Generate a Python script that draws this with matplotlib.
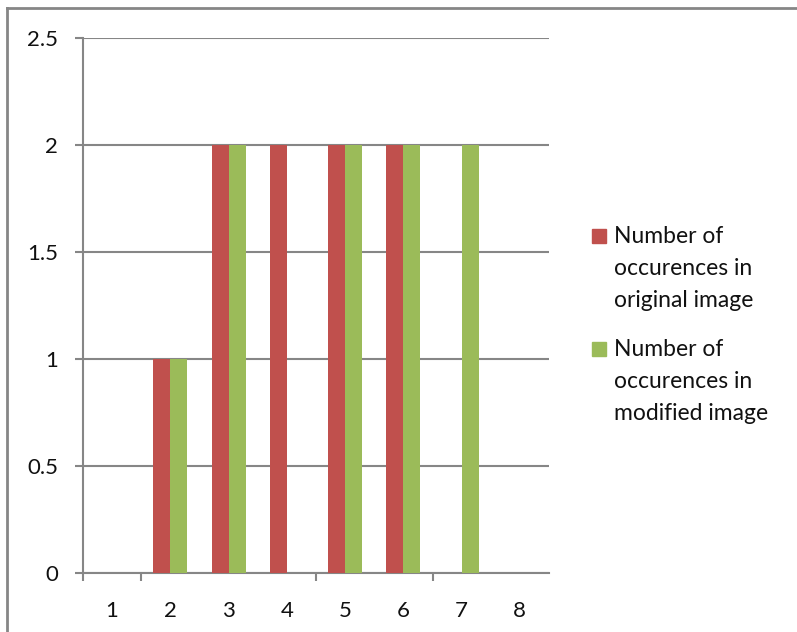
import matplotlib.pyplot as plt
from matplotlib.lines import Line2D
from matplotlib.patches import Rectangle

plt.rcParams['font.family'] = ['Lato', 'DejaVu Sans']

# occurrences per value, original vs modified image
categories = [1, 2, 3, 4, 5, 6, 7, 8]
original = [0, 1, 2, 2, 2, 2, 0, 0]
modified = [0, 1, 2, 0, 2, 2, 2, 0]
series_labels = ['Number of\noccurences in\noriginal image',
                 'Number of\noccurences in\nmodified image']
colors = ['#C0504D', '#9BBB59']
y_ticks = [0, 0.5, 1, 1.5, 2, 2.5]

W, H = 797, 632
grey = '#868686'

fig = plt.figure(figsize=(W / 100, H / 100), dpi=100)
ax = fig.add_axes([83 / W, 1 - 573 / H, (549 - 83) / W, (573 - 38) / H])

bar_w = 0.29
ax.bar([c - bar_w / 2 for c in categories], original, width=bar_w,
       color=colors[0], zorder=3)
ax.bar([c + bar_w / 2 for c in categories], modified, width=bar_w,
       color=colors[1], zorder=3)

ax.set_xlim(0.5, 8.5)
ax.set_ylim(0, 2.5)
ax.set_yticks(y_ticks)
ax.set_yticklabels([f'{v:g}' for v in y_ticks])
ax.set_xticks(categories)
ax.set_xticks([0.5, 1.5, 4.5, 6.5], minor=True)

ax.yaxis.grid(True, color=grey, linewidth=1.5, zorder=1)
ax.set_axisbelow(True)
for side in ['top', 'right']:
    ax.spines[side].set_visible(False)
for side in ['left', 'bottom']:
    ax.spines[side].set_color(grey)
    ax.spines[side].set_linewidth(1.5)

ax.tick_params(axis='y', length=6, width=1.5, color=grey, pad=12,
               labelsize=16, labelcolor='#111111')
ax.tick_params(axis='x', which='major', length=0, pad=20,
               labelsize=16, labelcolor='#111111')
ax.tick_params(axis='x', which='minor', length=6, width=1.5, color=grey)

# legend drawn by hand so the swatch sits on the first text line
for i, (lab, col) in enumerate(zip(series_labels, colors)):
    top = 229 + i * 113
    fig.patches.append(Rectangle((592 / W, 1 - (top + 14) / H), 14 / W, 14 / H,
                                 transform=fig.transFigure, color=col))
    fig.text(614 / W, 1 - (top - 3) / H, lab, ha='left', va='top',
             fontsize=16.5, linespacing=1.65, color='#111111')

# chart frame
fig.lines.append(Line2D([7 / W, 7 / W], [1 - 8 / H, 0], transform=fig.transFigure,
                        color=grey, linewidth=2))
fig.lines.append(Line2D([7 / W, 1], [1 - 8 / H, 1 - 8 / H], transform=fig.transFigure,
                        color=grey, linewidth=2))

fig.savefig('out.png', dpi=100)
